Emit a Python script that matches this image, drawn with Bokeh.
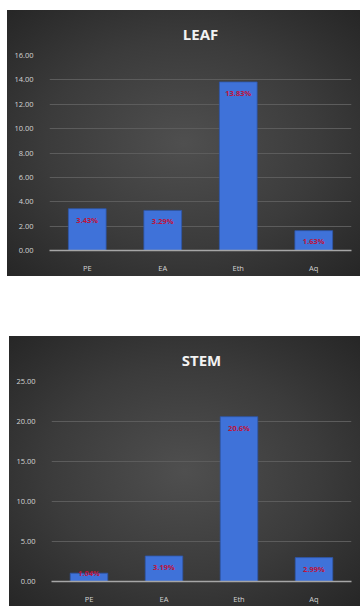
from bokeh.plotting import figure
from bokeh.layouts import column
from bokeh.models import ColumnDataSource, FactorRange, Range1d, NumeralTickFormatter, SingleIntervalTicker
from bokeh.core.properties import value
from bokeh.embed import file_html
from bokeh.resources import INLINE

# Extraction yield (%) per solvent
solvents = ["PE", "EA", "Eth", "Aq"]
leaf_yield = [3.43, 3.29, 13.83, 1.63]
leaf_labels = ["3.43%", "3.29%", "13.83%", "1.63%"]
stem_yield = [1.04, 3.19, 20.6, 2.99]
stem_labels = ["1.04%", "3.19%", "20.6%", "2.99%"]

FONT = "Open Sans"
BAR = "#3f72d9"
BG = "radial-gradient(ellipse at 50% 50%, #4f4f4f 0%, #3b3b3b 55%, #262626 100%)"


def yield_chart(title, vals, labels, ymax, step, width, height, borders, margin, title_standoff):
    left, right, top, bottom = borders
    frame_h = height - top - bottom
    px_per_unit = frame_h / ymax
    # labels sit just inside the bar top; short bars get them lower, tiny ones on the edge
    offsets = []
    for v in vals:
        bar_px = v * px_per_unit
        offsets.append(min(11, bar_px / 2) if bar_px > 15 else 0)
    src = ColumnDataSource(dict(x=solvents, top=vals, label=labels, off=offsets))
    p = figure(
        x_range=FactorRange(*solvents, range_padding=0),
        y_range=Range1d(0, ymax),
        width=width, height=height,
        output_backend="svg", toolbar_location=None,
        min_border_left=left, min_border_right=right,
        min_border_top=top, min_border_bottom=bottom,
        margin=margin,
    )
    p.styles = {"background": BG}
    p.background_fill_alpha = 0
    p.border_fill_alpha = 0
    p.outline_line_color = None

    p.title.text = title
    p.title.align = "center"
    p.title.text_color = "#f2f2f2"
    p.title.text_font = FONT
    p.title.text_font_style = "bold"
    p.title.text_font_size = "15px"
    p.title.standoff = title_standoff

    p.vbar(x="x", top="top", width=0.5, source=src,
           fill_color=BAR, line_color="#2d56a8", line_width=0.8)
    p.text(x="x", y="top", text="label", source=src,
           text_align="center", text_baseline="middle", y_offset="off",
           text_color="#c0143c", text_font=value(FONT), text_font_style="bold",
           text_font_size="7.5px")

    p.xgrid.grid_line_color = None
    p.ygrid.grid_line_color = "#5c5c5c"
    p.ygrid.grid_line_width = 1

    p.yaxis.ticker = SingleIntervalTicker(interval=step)
    p.yaxis.formatter = NumeralTickFormatter(format="0.00")
    p.yaxis.axis_line_color = None
    p.yaxis.major_tick_line_color = None
    p.yaxis.minor_tick_line_color = None
    p.yaxis.major_label_standoff = 10

    p.xaxis.axis_line_color = "#a6a6a6"
    p.xaxis.axis_line_width = 1.5
    p.xaxis.major_tick_line_color = None
    p.xaxis.minor_tick_line_color = None
    p.xaxis.major_label_standoff = 6

    for ax in (p.xaxis[0], p.yaxis[0]):
        ax.major_label_text_color = "#d4d4d4"
        ax.major_label_text_font = FONT
        ax.major_label_text_font_size = "7.5px"
    return p


leaf = yield_chart("LEAF", leaf_yield, leaf_labels, 16, 2, 353, 266,
                   (42, 9, 44, 26), (10, 0, 0, 7), 23)
stem = yield_chart("STEM", stem_yield, stem_labels, 25, 5, 351, 270,
                   (42, 7, 44, 21), (60, 0, 0, 9), 23)

page = column(leaf, stem, spacing=0)
open("out.html", "w").write(file_html(page, INLINE))
